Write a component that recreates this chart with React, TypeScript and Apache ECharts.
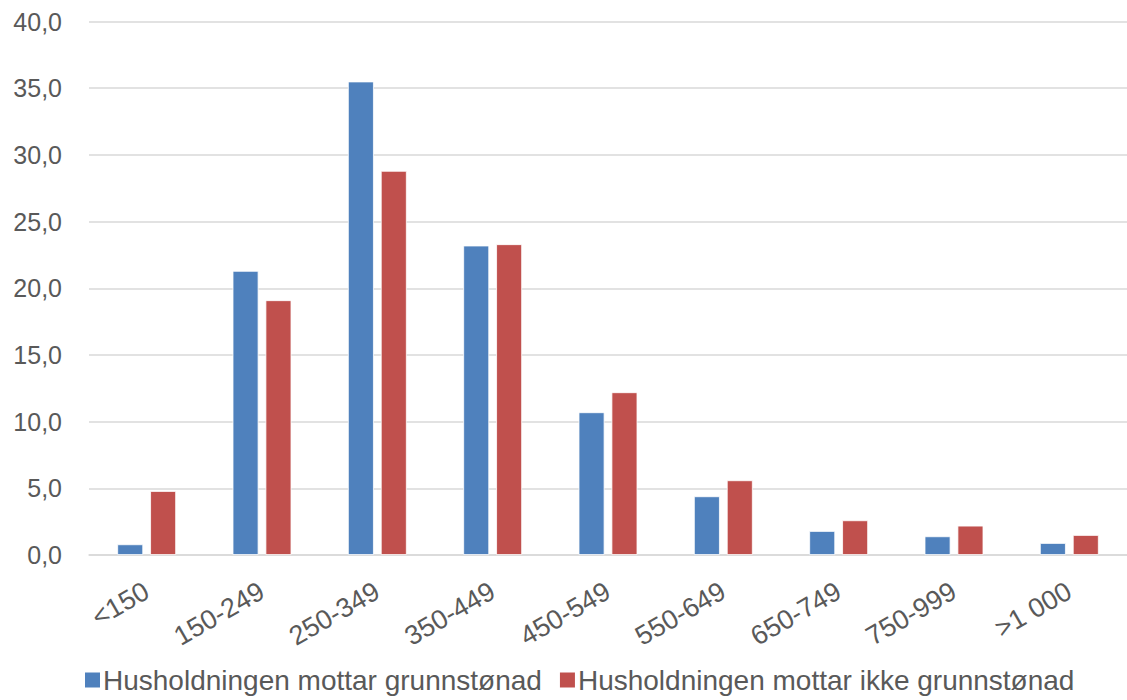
import React, { useEffect, useRef } from "react";
import * as echarts from "echarts";

const categories = ["<150", "150-249", "250-349", "350-449", "450-549", "550-649", "650-749", "750-999", ">1 000"];
const medGrunnstonad = [0.8, 21.3, 35.5, 23.2, 10.7, 4.4, 1.8, 1.4, 0.9];
const utenGrunnstonad = [4.8, 19.1, 28.8, 23.3, 12.2, 5.6, 2.6, 2.2, 1.5];
const seriesNames = ["Husholdningen mottar grunnstønad", "Husholdningen mottar ikke grunnstønad"];

const FONT = "'Liberation Sans', Arial, Helvetica, sans-serif";
const TEXT = "#595959";

export default function App() {
  const ref = useRef<HTMLDivElement>(null);

  useEffect(() => {
    if (!ref.current) return;
    const chart = echarts.init(ref.current, undefined, { renderer: "svg" });
    chart.setOption({
      animation: false,
      backgroundColor: "#ffffff",
      textStyle: { fontFamily: FONT },
      grid: { left: 89, right: 0, top: 21.5, bottom: 145, containLabel: false },
      legend: {
        bottom: 1,
        left: 78,
        itemWidth: 17,
        itemHeight: 17,
        itemGap: 16,
        icon: "rect",
        textStyle: { fontFamily: FONT, fontSize: 28, color: TEXT, padding: [0, 0, 0, -3] },
        data: seriesNames,
      },
      xAxis: {
        type: "category",
        data: categories,
        axisLine: { lineStyle: { color: "#d9d9d9", width: 1.5 } },
        axisTick: { show: false },
        axisLabel: {
          rotate: 30,
          interval: 0,
          margin: 34,
          fontFamily: FONT,
          fontSize: 27,
          color: TEXT,
        },
      },
      yAxis: {
        type: "value",
        min: 0,
        max: 40,
        interval: 5,
        axisLine: { show: false },
        axisTick: { show: false },
        splitLine: { lineStyle: { color: "#d9d9d9", width: 1.5 } },
        axisLabel: {
          margin: 27,
          fontFamily: FONT,
          fontSize: 25,
          color: TEXT,
          formatter: (v: number) => v.toFixed(1).replace(".", ","),
        },
      },
      series: [
        {
          name: seriesNames[0],
          type: "bar",
          data: medGrunnstonad,
          barGap: "27%",
          barCategoryGap: "49%",
          itemStyle: { color: "#4F81BD", borderColor: "#ffffff", borderWidth: 0.8 },
        },
        {
          name: seriesNames[1],
          type: "bar",
          data: utenGrunnstonad,
          barGap: "27%",
          barCategoryGap: "49%",
          itemStyle: { color: "#C0504D", borderColor: "#ffffff", borderWidth: 0.8 },
        },
      ],
    });
    return () => chart.dispose();
  }, []);

  return (
    <div
      ref={ref}
      style={{ position: "fixed", left: 0, top: 0, width: 1127, height: 700, background: "#fff" }}
    />
  );
}
